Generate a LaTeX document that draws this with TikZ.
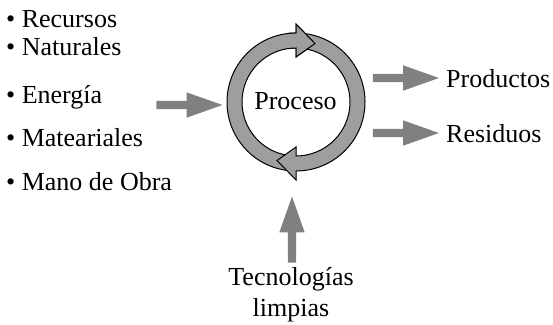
\documentclass[tikz,border=0pt]{standalone}
\usepackage{fontspec}
\setmainfont{Liberation Serif}
\newfontfamily\lserif{Liberation Serif}
\usepackage{tikz}
\usetikzlibrary{shapes.arrows}
\definecolor{arrowgray}{gray}{0.5}
\definecolor{ringgray}{gray}{0.62}
\tikzset{>=latex}
\tikzset{
  txt/.style={inner sep=0pt, font=\lserif\fontsize{26}{31}\selectfont},
  blockarrow/.style={single arrow, fill=arrowgray, draw=none, inner sep=0pt,
    text height=8pt, text depth=0pt, minimum height=66pt,
    single arrow head extend=8.5pt, single arrow tip angle=39},
  ringarc/.style={fill=ringgray, draw=black, line width=1pt}
}

\begin{document}
\begin{tikzpicture}[x=1pt,y=1pt]
            \useasboundingbox (0,0) rectangle (553,-324);
            % inputs
            \node[txt,anchor=base west] (rec) at (6,-27) {• Recursos};
            \node[txt,anchor=base west] (nat) at (6,-55) {• Naturales};
            \node[txt,anchor=base west] (ene) at (6,-103) {• Energía};
            \node[txt,anchor=base west] (mat) at (6,-146) {• Mateariales};
            \node[txt,anchor=base west] (mano) at (6,-190) {• Mano de Obra};
            % ring
            \coordinate (ctr) at (296,-102);
            \begin{scope}[shift={(ctr)}]
            \filldraw[ringarc] (262:69pt) arc[start angle=262, end angle=90, radius=69pt]
                -- (90:78pt) -- (72:61.5pt) -- (90:45pt) -- (90:54pt)
                arc[start angle=90, end angle=262, radius=54pt] -- cycle;
            \filldraw[ringarc] (82:69pt) arc[start angle=82, end angle=-90, radius=69pt]
                -- (-90:78pt) -- (-108:61.5pt) -- (-90:45pt) -- (-90:54pt)
                arc[start angle=-90, end angle=82, radius=54pt] -- cycle;
            \fill[ringgray] (97:69pt) arc[start angle=97, end angle=90, radius=69pt]
                -- (90:78pt) -- (72:61.5pt) -- (90:45pt) -- (90:54pt)
                arc[start angle=90, end angle=97, radius=54pt] -- cycle;
            \draw[line width=1pt] (97:69pt) arc[start angle=97, end angle=90, radius=69pt]
                -- (90:78pt) -- (72:61.5pt) -- (90:45pt) -- (90:54pt)
                arc[start angle=90, end angle=97, radius=54pt];
            \end{scope}
            \node[txt,anchor=base] (proc) at (295.5,-109.5) {Proceso};
            % arrows
            \node[blockarrow] (ain) at (183.5,-105) {};
            \node[blockarrow] (aprod) at (400,-78) {};
            \node[blockarrow] (ares) at (400,-133) {};
            \node[blockarrow,rotate=90] (atec) at (292,-235.5) {};
            % outputs
            \node[txt,anchor=base west] (prod) at (446,-87) {Productos};
            \node[txt,anchor=base west] (res) at (446,-142) {Residuos};
            \node[txt,anchor=base] (tec) at (291,-285) {Tecnologías};
            \node[txt,anchor=base] (limp) at (291,-316) {limpias};
        \end{tikzpicture}
\end{document}
